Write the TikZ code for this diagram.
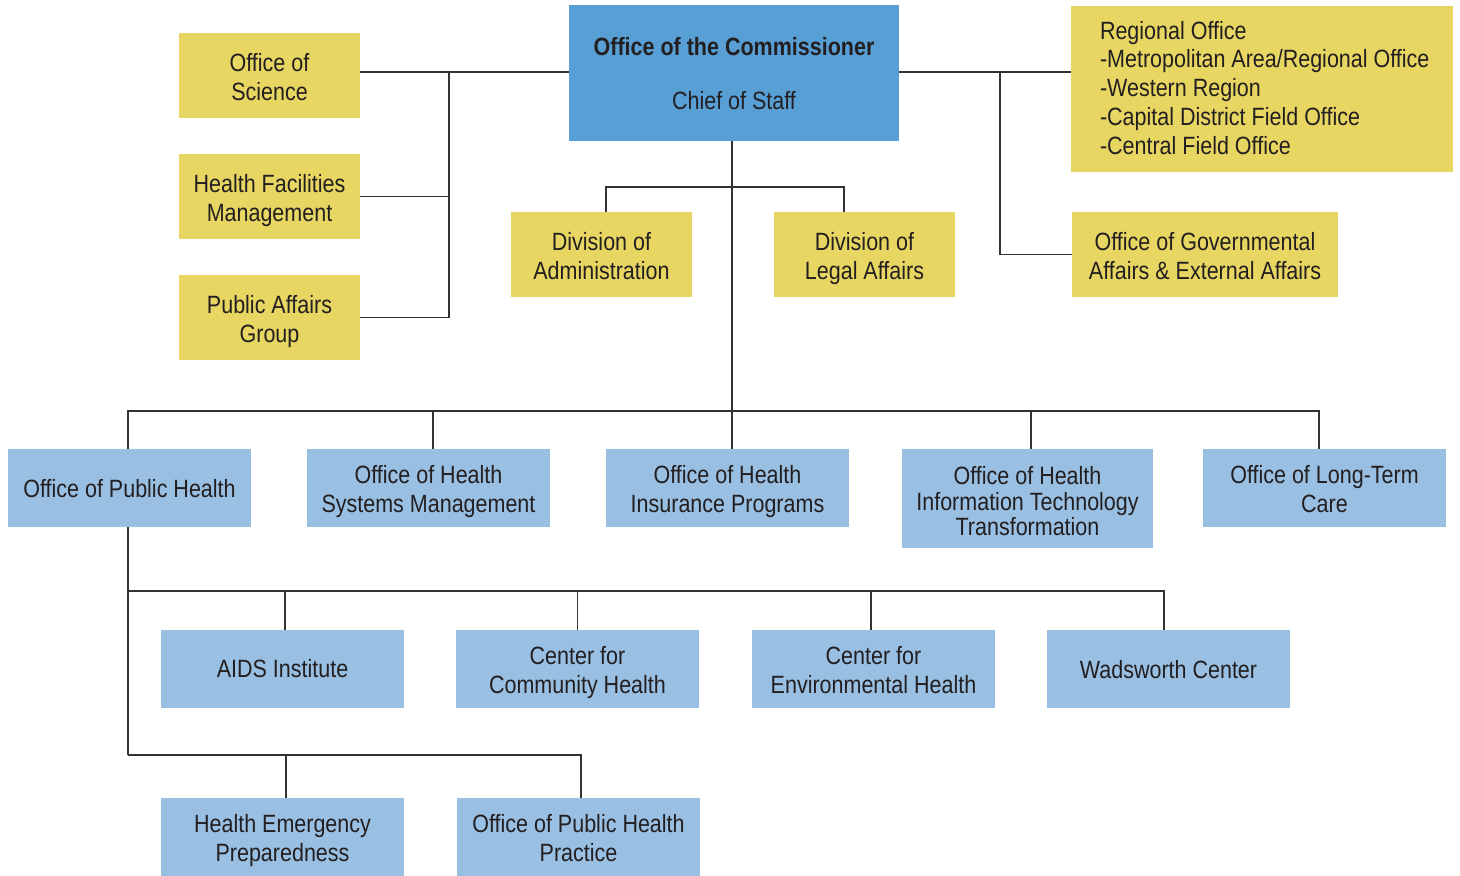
\documentclass[tikz,border=0pt]{standalone}
\usepackage{fontspec}
\setmainfont[FakeStretch=0.86]{Liberation Sans}
\definecolor{ylw}{HTML}{E8D662}
\definecolor{lblue}{HTML}{99BFE3}
\definecolor{dblue}{HTML}{589FD6}
\definecolor{ink}{HTML}{231F20}
\definecolor{wire}{HTML}{333333}
\begin{document}
\begin{tikzpicture}[x=0.5pt,y=-0.5pt,
  box/.style={rectangle, inner sep=0pt, align=flush center, text=ink, text depth=13.5pt,
    font=\fontsize{12.5}{14.5}\selectfont},
  ybox/.style={box, fill=ylw, minimum width=90.5pt, text width=90.5pt, minimum height=42.5pt},
  bbox/.style={box, fill=lblue, minimum width=121.5pt, text width=121.5pt, minimum height=39pt},
  oneline/.style={text depth=-0.8pt},
  wiring/.style={draw=wire, line width=0.65pt}]
\useasboundingbox (0,0) rectangle (1460,876);

% top
\node[rectangle, inner sep=0pt, align=center, text=ink, font=\fontsize{12.5}{14.5}\selectfont,
  fill=dblue, minimum width=165pt, minimum height=68pt, text depth=-3pt] (comm) at (734,73)
  {\textbf{Office of the Commissioner}\\[12.5pt]Chief of Staff};
\node[ybox] (sci) at (269.5,75.5) {Office of\\Science};
\node[ybox] (hfm) at (269.5,196.5) {Health Facilities\\Management};
\node[ybox] (pag) at (269.5,317.5) {Public Affairs\\Group};
\node[box, fill=ylw, minimum width=191pt, minimum height=83pt, text width=162pt,
  inner xsep=14.5pt, align=flush left, text depth=59pt, font=\fontsize{12.5}{14.4}\selectfont] (reg) at (1262,89)
  {\mbox{Regional Office}\\\mbox{-Metropolitan Area/Regional Office}\\\mbox{-Western Region}\\\mbox{-Capital District Field Office}\\\mbox{-Central Field Office}};
\node[ybox, minimum width=133pt, text width=133pt] (oga) at (1205,254.5) {Office of Governmental\\Affairs \& External Affairs};
\node[ybox] (adm) at (601.5,254.5) {Division of\\Administration};
\node[ybox] (leg) at (864.5,254.5) {Division of\\Legal Affairs};

% row 3
\node[bbox, oneline] (oph) at (129.5,488) {Office of Public Health};
\node[bbox] (hsm) at (428.5,488) {Office of Health\\Systems Management};
\node[bbox] (hip) at (727.5,488) {Office of Health\\Insurance Programs};
\node[bbox, minimum width=125.5pt, text width=125.5pt, minimum height=49.5pt, text depth=22.9pt,
  font=\fontsize{12.5}{12.75}\selectfont] (hit) at (1027.5,498.5)
  {Office of Health\\Information Technology\\Transformation};
\node[bbox] (ltc) at (1324.5,488) {Office of Long-Term\\Care};

% row 4
\node[bbox, oneline, text depth=0.4pt] (aids) at (282.5,669) {AIDS Institute};
\node[bbox] (cch) at (577.5,669) {Center for\\Community Health};
\node[bbox] (ceh) at (873.5,669) {Center for\\Environmental Health};
\node[bbox, oneline] (wad) at (1168.5,669) {Wadsworth Center};

% row 5
\node[bbox] (hep) at (282.5,837) {Health Emergency\\Preparedness};
\node[bbox] (ophp) at (578.5,837) {Office of Public Health\\Practice};

% junctions
\coordinate (bL) at (449,72);
\coordinate (bR) at (1000,72);
\coordinate (d2) at (732,187);
\coordinate (b3) at (732,411);
\coordinate (b4) at (128,591);
\coordinate (b5) at (128,755);

% connectors
\draw[wiring] (sci.east |- bL) -- (comm.west |- bL);
\draw[wiring] (hfm.east) -- (hfm.east -| bL);
\draw[wiring] (pag.east) -| (bL);
\draw[wiring] (comm.east |- bR) -- (reg.west |- bR);
\draw[wiring] (bR) |- (oga.west);
\draw[wiring] (comm.south -| d2) -- (hip.north -| d2);
\draw[wiring] ([xshift=2.25pt]adm.north) |- (d2) -| ([xshift=-10.25pt]leg.north);
\draw[wiring] ([xshift=-0.75pt]oph.north) |- (b3) -| ([xshift=-2.75pt]ltc.north);
\draw[wiring] ([xshift=2.25pt]hsm.north) -- ([xshift=2.25pt]hsm.north |- b3);
\draw[wiring] ([xshift=1.75pt]hit.north) -- ([xshift=1.75pt]hit.north |- b3);
\draw[wiring] (oph.south -| b4) -- (b5);
\draw[wiring] (b4) -| ([xshift=-2.25pt]wad.north);
\draw[wiring] ([xshift=1.25pt]aids.north) -- ([xshift=1.25pt]aids.north |- b4);
\draw[wiring] (cch.north) -- (cch.north |- b4);
\draw[wiring] ([xshift=-1.25pt]ceh.north) -- ([xshift=-1.25pt]ceh.north |- b4);
\draw[wiring] (b5) -| ([xshift=1.25pt]ophp.north);
\draw[wiring] ([xshift=1.75pt]hep.north) -- ([xshift=1.75pt]hep.north |- b5);
\end{tikzpicture}
\end{document}
